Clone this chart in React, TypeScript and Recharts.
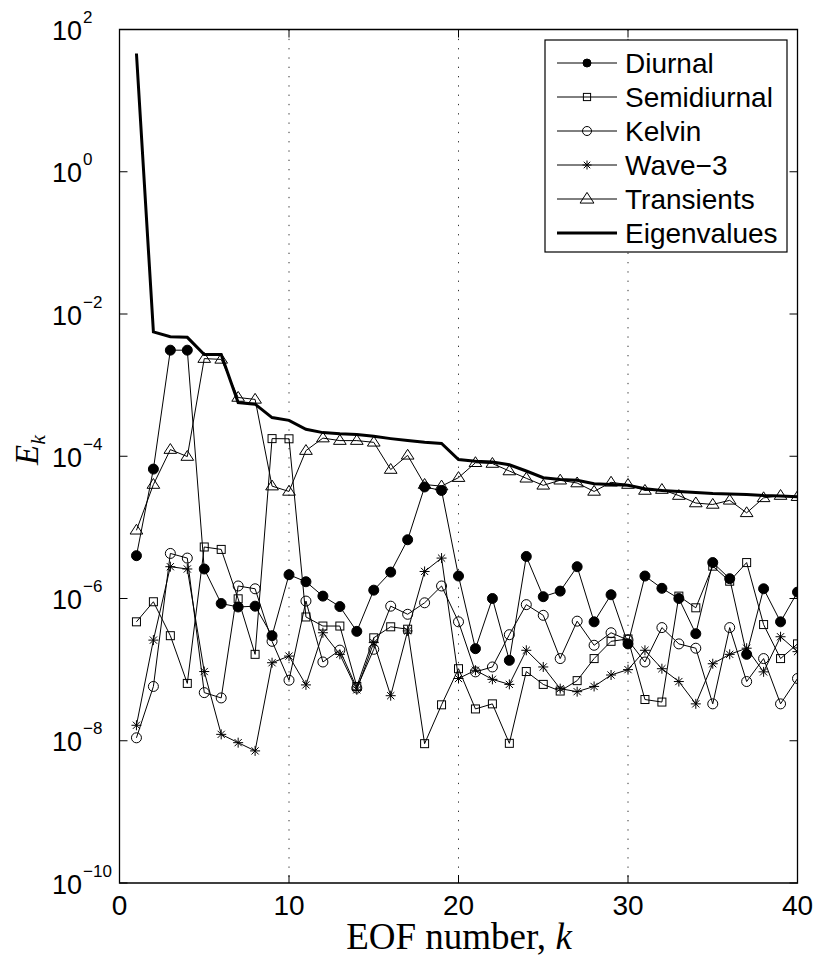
import React from 'react';
import { LineChart, Line, XAxis, YAxis, CartesianGrid, ReferenceArea } from 'recharts';

const kValues = [1,2,3,4,5,6,7,8,9,10,11,12,13,14,15,16,17,18,19,20,21,22,23,24,25,26,27,28,29,30,31,32,33,34,35,36,37,38,39,40];

const diurnal = [4.0e-6,6.6e-5,3.1e-3,3.1e-3,2.6e-6,8.5e-7,7.6e-7,7.8e-7,3.0e-7,2.16e-6,1.72e-6,1.08e-6,7.7e-7,3.45e-7,1.31e-6,2.35e-6,6.7e-6,3.7e-5,3.3e-5,2.07e-6,1.97e-7,1.0e-6,1.35e-7,3.9e-6,1.06e-6,1.27e-6,2.8e-6,4.7e-7,1.13e-6,2.3e-7,2.07e-6,1.39e-6,1.0e-6,3.2e-7,3.2e-6,1.9e-6,1.64e-7,1.37e-6,4.7e-7,1.23e-6];
const semidiurnal = [4.7e-7,9.0e-7,3.0e-7,6.4e-8,5.3e-6,4.9e-6,9.9e-7,1.64e-7,1.77e-4,1.76e-4,5.5e-7,4.1e-7,4.1e-7,5.8e-8,2.8e-7,4.0e-7,3.7e-7,9.1e-9,3.2e-8,1.03e-7,2.8e-8,3.3e-8,9.2e-9,9.4e-8,6.2e-8,5.0e-8,7.0e-8,1.43e-7,2.5e-7,2.7e-7,3.8e-8,3.5e-8,1.08e-6,7.4e-7,2.85e-6,1.75e-6,3.2e-6,4.3e-7,1.43e-7,2.3e-7];
const kelvin = [1.1e-8,5.8e-8,4.3e-6,3.7e-6,4.75e-8,4.0e-8,1.5e-6,1.37e-6,2.5e-7,7.1e-8,9.2e-7,1.28e-7,1.88e-7,5.5e-8,1.93e-7,7.8e-7,6.0e-7,8.7e-7,1.5e-6,4.7e-7,9.3e-8,1.09e-7,3.1e-7,8.2e-7,5.8e-7,1.43e-7,4.8e-7,2.2e-7,3.3e-7,2.6e-7,1.28e-7,3.9e-7,2.3e-7,2.0e-7,3.3e-8,3.9e-7,6.8e-8,1.43e-7,3.3e-8,7.5e-8];
const wave3 = [1.65e-8,2.6e-7,2.8e-6,2.6e-6,9.4e-8,1.23e-8,9.4e-9,7.2e-9,1.25e-7,1.55e-7,6.1e-8,3.3e-7,1.64e-7,5.2e-8,2.4e-7,4.3e-8,3.5e-7,2.4e-6,3.7e-6,7.5e-8,9.8e-8,7.3e-8,6.2e-8,1.87e-7,1.09e-7,5.4e-8,4.9e-8,5.8e-8,8.4e-8,1.0e-7,1.87e-7,1.03e-7,6.8e-8,3.3e-8,1.21e-7,1.64e-7,2.0e-7,9.3e-8,2.9e-7,1.79e-7];
const transients = [9.1e-6,4.0e-5,1.24e-4,9.9e-5,2.36e-3,2.3e-3,6.7e-4,6.3e-4,3.8e-5,3.2e-5,1.2e-4,1.8e-4,1.66e-4,1.66e-4,1.57e-4,6.5e-5,1.03e-4,4.0e-5,3.8e-5,5.0e-5,8.1e-5,7.9e-5,6.2e-5,4.9e-5,3.9e-5,4.6e-5,4.2e-5,3.2e-5,4.3e-5,4.0e-5,3.3e-5,3.4e-5,2.8e-5,2.2e-5,2.1e-5,2.4e-5,1.6e-5,2.6e-5,2.8e-5,2.7e-5];
const eigenvalues = [46,5.6e-3,4.8e-3,4.7e-3,2.7e-3,2.7e-3,5.7e-4,5.4e-4,3.5e-4,3.2e-4,2.4e-4,2.15e-4,2.07e-4,2.02e-4,1.91e-4,1.77e-4,1.66e-4,1.57e-4,1.51e-4,9.0e-5,8.5e-5,8.3e-5,7.6e-5,6.2e-5,5.0e-5,4.7e-5,4.6e-5,4.1e-5,4.0e-5,3.9e-5,3.5e-5,3.3e-5,3.2e-5,3.1e-5,3.0e-5,2.95e-5,2.9e-5,2.8e-5,2.76e-5,2.7e-5];

const xTicks = [0, 10, 20, 30, 40];
const yTicks = [1e-10, 1e-8, 1e-6, 1e-4, 1e-2, 1, 100];
const legendLabels = ['Diurnal', 'Semidiurnal', 'Kelvin', 'Wave\u22123', 'Transients', 'Eigenvalues'];

const data = kValues.map((k, i) => ({
  k,
  diurnal: diurnal[i],
  semidiurnal: semidiurnal[i],
  kelvin: kelvin[i],
  wave3: wave3[i],
  transients: transients[i],
  eigenvalues: eigenvalues[i],
}));

const W = 815;
const H = 960;
const PL = 119.5;
const PT = 29.5;
const PR = 797.5;
const PB = 883;
const SANS = 'Liberation Sans, Arial, Helvetica, sans-serif';
const SERIF = 'Liberation Serif, Times New Roman, serif';

type Shape = 'filled' | 'square' | 'circle' | 'star' | 'tri' | 'none';

const marker = (shape: Shape, cx: number, cy: number, s: number, key?: string) => {
  if (shape === 'filled') return <circle key={key} cx={cx} cy={cy} r={s * 0.5} fill="#000" stroke="#000" />;
  if (shape === 'square') return <rect key={key} x={cx - s * 0.4} y={cy - s * 0.4} width={s * 0.8} height={s * 0.8} fill="none" stroke="#000" strokeWidth={1} />;
  if (shape === 'circle') return <circle key={key} cx={cx} cy={cy} r={s * 0.5} fill="none" stroke="#000" strokeWidth={1} />;
  if (shape === 'star') {
    const r = s * 0.5;
    const d = r * 0.72;
    return (
      <g key={key} stroke="#000" strokeWidth={1}>
        <line x1={cx} y1={cy - r} x2={cx} y2={cy + r} />
        <line x1={cx - r} y1={cy} x2={cx + r} y2={cy} />
        <line x1={cx - d} y1={cy - d} x2={cx + d} y2={cy + d} />
        <line x1={cx - d} y1={cy + d} x2={cx + d} y2={cy - d} />
      </g>
    );
  }
  if (shape === 'tri') {
    const h = s * 0.55;
    return <polygon key={key} points={`${cx},${cy - h} ${cx - h * 1.05},${cy + h * 0.62} ${cx + h * 1.05},${cy + h * 0.62}`} fill="none" stroke="#000" strokeWidth={1} />;
  }
  return null;
};

const makeDot = (shape: Shape, size: number) => (props: any) => {
  const { cx, cy, index } = props;
  if (cx == null || cy == null || isNaN(cx) || isNaN(cy)) return <g key={`e-${shape}-${index}`} />;
  return <g key={`d-${shape}-${index}`}>{marker(shape, cx, cy, size)}</g>;
};

const YTick = (props: any) => {
  const { y, payload } = props;
  const exp = Math.round(Math.log10(payload.value));
  const expStr = exp < 0 ? '\u2212' + String(-exp) : String(exp);
  return (
    <g>
      <line x1={PL} x2={PL + 8} y1={y} y2={y} stroke="#000" strokeWidth={1} />
      <line x1={PR} x2={PR - 8} y1={y} y2={y} stroke="#000" strokeWidth={1} />
      <text x={52} y={y + 10.5} fontFamily={SANS} fontSize={27} fill="#000">
        10<tspan fontSize={17} dy={-17} dx={1}>{expStr}</tspan>
      </text>
    </g>
  );
};

const XTick = (props: any) => {
  const { x, payload } = props;
  return (
    <g>
      <line x1={x} x2={x} y1={PB} y2={PB - 8} stroke="#000" strokeWidth={1} />
      <line x1={x} x2={x} y1={PT} y2={PT + 8} stroke="#000" strokeWidth={1} />
      <text x={x} y={915} textAnchor="middle" fontFamily={SANS} fontSize={28} fill="#000">{payload.value}</text>
    </g>
  );
};

const XLabel = () => (
  <text x={459} y={949} textAnchor="middle" fontFamily={SERIF} fontSize={37} fill="#000">
    EOF number, <tspan fontStyle="italic">k</tspan>
  </text>
);

const YLabel = () => (
  <text x={38} y={450} transform="rotate(-90 38 450)" textAnchor="middle" fontFamily={SERIF} fontStyle="italic" fontSize={33} fill="#000">
    E<tspan fontSize={22} dy={7}>k</tspan>
  </text>
);

const legendShapes: Shape[] = ['filled', 'square', 'circle', 'star', 'tri', 'none'];
const legendSizes = [8, 9, 9, 9, 12, 0];

const LegendBox = () => (
  <svg width={244} height={214} style={{ position: 'absolute', left: 544, top: 39 }}>
    <rect x={1} y={1} width={242} height={212} fill="#fff" stroke="#000" strokeWidth={1.2} />
    {legendLabels.map((lab, i) => {
      const y = 24 + 34 * i;
      return (
        <g key={lab}>
          <line x1={13} x2={73} y1={y} y2={y} stroke="#000" strokeWidth={i === 5 ? 3 : 1} />
          {marker(legendShapes[i], 43, y, legendSizes[i])}
          <text x={81} y={y + 10} fontFamily={SANS} fontSize={28} fill="#000">{lab}</text>
        </g>
      );
    })}
  </svg>
);

export default function App() {
  return (
    <div style={{ position: 'absolute', left: 0, top: 0, width: W, height: H, overflow: 'hidden', background: '#fff' }}>
      <LineChart width={W} height={H} data={data} margin={{ top: PT, right: W - PR, left: 0, bottom: 0 }}>
        <CartesianGrid horizontal={false} vertical={true} stroke="#333" strokeDasharray="1.3 8" />
        <ReferenceArea x1={0} x2={40} y1={1e-10} y2={100} fill="none" stroke="#000" strokeWidth={1.3} />
        <XAxis
          type="number"
          dataKey="k"
          domain={[0, 40]}
          ticks={xTicks}
          allowDataOverflow
          height={H - PB}
          axisLine={false}
          tickLine={false}
          tick={<XTick />}
          label={<XLabel />}
        />
        <YAxis
          type="number"
          scale="log"
          domain={[1e-10, 100]}
          ticks={yTicks}
          allowDataOverflow
          width={PL}
          axisLine={false}
          tickLine={false}
          tick={<YTick />}
          label={<YLabel />}
        />
        <Line dataKey="diurnal" stroke="#000" strokeWidth={1} dot={makeDot('filled', 10)} isAnimationActive={false} />
        <Line dataKey="semidiurnal" stroke="#000" strokeWidth={1} dot={makeDot('square', 10)} isAnimationActive={false} />
        <Line dataKey="kelvin" stroke="#000" strokeWidth={1} dot={makeDot('circle', 10)} isAnimationActive={false} />
        <Line dataKey="wave3" stroke="#000" strokeWidth={1} dot={makeDot('star', 10)} isAnimationActive={false} />
        <Line dataKey="transients" stroke="#000" strokeWidth={1} dot={makeDot('tri', 11)} isAnimationActive={false} />
        <Line dataKey="eigenvalues" stroke="#000" strokeWidth={3} dot={false} isAnimationActive={false} />
      </LineChart>
      <LegendBox />
    </div>
  );
}
